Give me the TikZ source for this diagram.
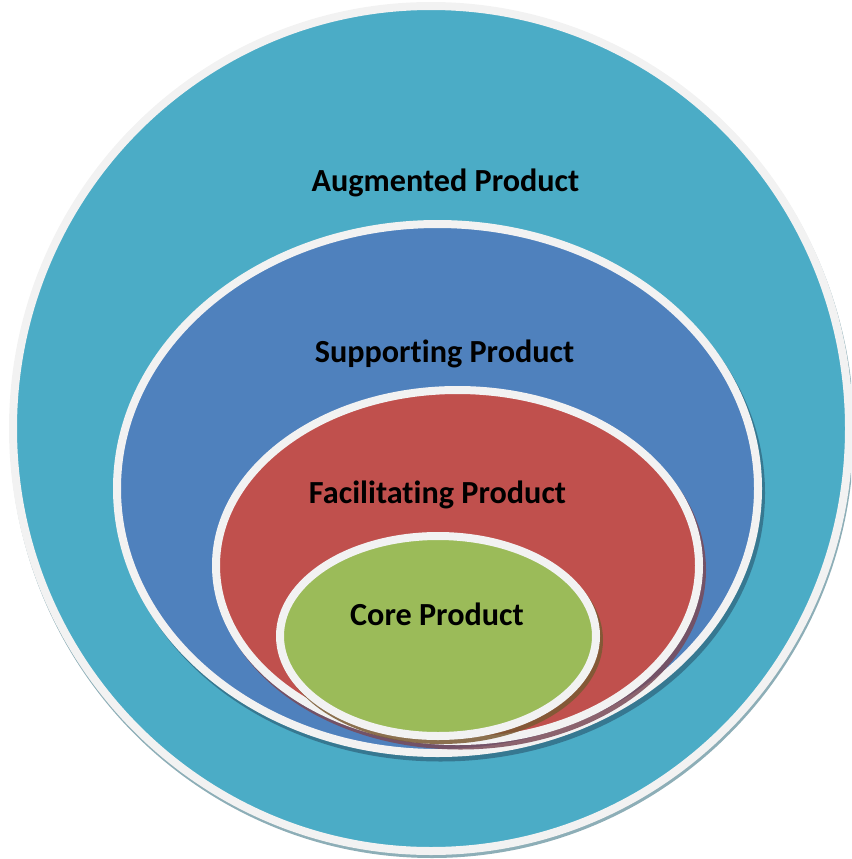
\documentclass[tikz,border=0pt]{standalone}
\usepackage{fontspec}
\setmainfont{Carlito}[Ligatures=NoCommon]
\definecolor{cTeal}{HTML}{4BACC6}
\definecolor{cBlue}{HTML}{4F81BD}
\definecolor{cRed}{HTML}{C0504D}
\definecolor{cGreen}{HTML}{9BBB59}
\definecolor{cRing}{HTML}{F2F2F2}
\definecolor{shTeal}{HTML}{8DAEB7}
\definecolor{shBlue}{HTML}{336F88}
\definecolor{shRed}{HTML}{7A4A58}
\definecolor{shGreen}{HTML}{7A5A32}
\tikzset{
  ring/.style={draw=cRing, line width=8pt},
  shad/.style={fill opacity=0.85},
  lbl/.style={font=\bfseries\fontsize{32.2}{37}\selectfont, text=black, inner sep=0pt, anchor=base}
}
\begin{document}
\begin{tikzpicture}[x=1pt,y=-1pt]
\useasboundingbox (0,0) rectangle (851,859);
\clip (0,0) rectangle (851,859);
% outer (augmented)
\fill[shTeal] (432,431.5) ellipse [x radius=422, y radius=426.5];
\draw[ring, fill=cTeal] (431,428.5) ellipse [x radius=418, y radius=422.5];
% supporting
\fill[shBlue, shad] (440.5,493) ellipse [x radius=324.5, y radius=268.5];
\draw[ring, fill=cBlue] (437.5,488.5) ellipse [x radius=320.5, y radius=264.5];
% facilitating
\fill[shRed, shad] (460.5,570) ellipse [x radius=245.5, y radius=179.5];
\draw[ring, fill=cRed] (457.5,565.5) ellipse [x radius=241.5, y radius=175.5];
% core
\fill[shGreen, shad] (441,640) ellipse [x radius=162, y radius=104];
\draw[ring, fill=cGreen] (438,636) ellipse [x radius=158, y radius=100];
% labels
\node[lbl] (aug) at (445.5,191) {Augmented Product};
\node[lbl] (sup) at (444.5,362) {Supporting Product};
\node[lbl] (fac) at (437.5,503) {Facilitating Product};
\node[lbl] (core) at (437,625) {Core Product};
\end{tikzpicture}
\end{document}
